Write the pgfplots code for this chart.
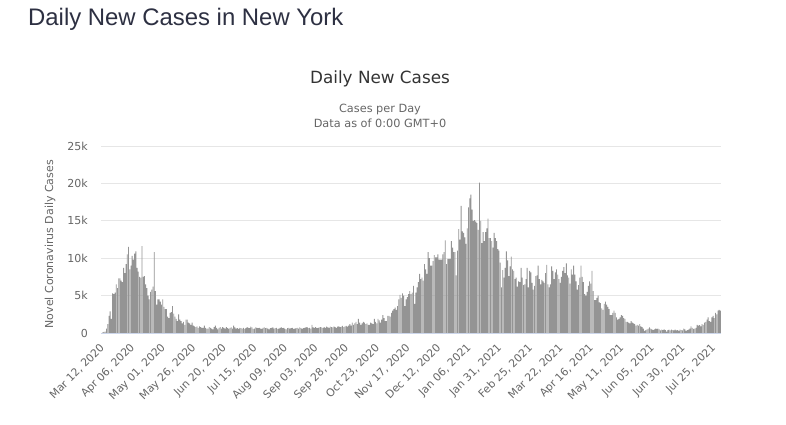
\documentclass[border=0pt]{standalone}
\usepackage{pgfplots}
\usepackage{pgfplotstable}
\pgfplotsset{compat=1.18}
\usepackage{fontspec}
\setmainfont{DejaVu Sans}
\newfontfamily\titlefont{Liberation Sans}
\definecolor{barc}{RGB}{148,148,148}
\definecolor{gridc}{RGB}{230,230,230}
\definecolor{axisc}{RGB}{204,214,235}
\definecolor{labc}{RGB}{102,102,102}
\definecolor{titc}{RGB}{51,51,51}
\definecolor{bigtitc}{RGB}{45,48,66}

\pgfplotstableread[row sep=\\]{
v\\
0\\100\\150\\200\\600\\1200\\2300\\2900\\1900\\5300\\
5200\\5400\\6500\\6000\\7300\\7300\\7000\\6800\\8700\\8000\\
9200\\10500\\11500\\8500\\9000\\10300\\9800\\10600\\10900\\8700\\
8200\\7500\\7400\\11600\\7500\\7600\\6500\\6000\\5000\\4500\\
5500\\5800\\6200\\10800\\5600\\3800\\4500\\4500\\4200\\3800\\
4500\\3500\\3200\\3200\\2200\\2000\\2700\\2800\\3600\\2600\\
2200\\1900\\1600\\2500\\1800\\1600\\1300\\1500\\1100\\1800\\
1800\\1400\\1300\\1100\\1400\\1000\\900\\800\\900\\700\\
900\\800\\700\\700\\1000\\700\\600\\600\\800\\700\\
600\\500\\800\\1000\\700\\500\\700\\800\\600\\800\\
700\\600\\800\\650\\550\\700\\750\\600\\1000\\750\\
600\\650\\550\\700\\650\\600\\700\\550\\650\\800\\
700\\650\\850\\750\\550\\600\\750\\700\\650\\700\\
600\\550\\700\\750\\650\\700\\600\\500\\650\\700\\
750\\600\\650\\700\\550\\600\\700\\750\\650\\700\\
550\\500\\650\\700\\600\\650\\700\\550\\600\\650\\
700\\600\\750\\650\\550\\650\\700\\750\\800\\650\\
700\\600\\1100\\750\\700\\800\\650\\700\\750\\800\\
750\\650\\800\\700\\850\\750\\700\\850\\800\\750\\
900\\800\\700\\850\\900\\800\\850\\950\\800\\900\\
950\\850\\1000\\1200\\1000\\1400\\1100\\1300\\1500\\1200\\
1900\\1400\\1100\\1300\\1500\\1400\\1200\\1300\\1100\\1100\\
1400\\1300\\1200\\1900\\1500\\1300\\1900\\1700\\1400\\1800\\
2400\\2000\\1600\\1600\\2300\\2300\\2200\\2700\\3000\\3200\\
3400\\3100\\3600\\4500\\5100\\4700\\5300\\5000\\3600\\4500\\
4800\\5200\\5600\\5200\\5400\\6300\\3900\\5400\\6100\\6800\\
7900\\7200\\7400\\7000\\9200\\8500\\7900\\10800\\10000\\9000\\
9000\\9600\\10400\\10100\\10100\\10500\\9800\\9800\\9800\\10500\\
10800\\12400\\9200\\9900\\9900\\9900\\12300\\11400\\10800\\10800\\
7700\\11000\\13900\\12500\\17000\\13600\\13400\\12800\\11900\\14000\\
16800\\18000\\18500\\16500\\15000\\15100\\14900\\14700\\13800\\20100\\
15000\\12000\\13500\\12300\\13500\\14000\\15300\\12700\\12700\\12300\\
11400\\13400\\12700\\12300\\11200\\11000\\9400\\6100\\8400\\7400\\
8700\\10900\\9700\\7600\\8900\\10200\\8500\\8300\\7200\\7400\\
6200\\6900\\6800\\8700\\7400\\6400\\6500\\7200\\8700\\6100\\
8300\\8100\\6700\\5800\\6300\\7600\\7700\\9000\\7200\\6500\\
7100\\6900\\6700\\8000\\9100\\6500\\6100\\6500\\8900\\8300\\
7200\\8100\\8500\\7800\\7200\\6700\\7500\\8300\\8800\\8000\\
9300\\7700\\7400\\6600\\8500\\7800\\9000\\7800\\6900\\5800\\
6400\\7400\\9000\\7500\\6800\\5200\\5000\\5500\\6300\\6900\\
6600\\8300\\5600\\4400\\4400\\4700\\5000\\4100\\4000\\3300\\
3100\\3900\\4200\\3800\\3500\\3200\\2400\\2400\\2700\\3000\\
2700\\2100\\1800\\1900\\2100\\2400\\2300\\2000\\1900\\1500\\
1500\\1400\\1300\\1600\\1400\\1300\\1200\\1000\\1100\\1000\\
1200\\900\\800\\600\\300\\400\\500\\600\\750\\600\\
500\\400\\500\\600\\550\\600\\500\\350\\450\\400\\
500\\400\\200\\400\\450\\350\\450\\400\\350\\450\\
350\\400\\300\\450\\400\\350\\600\\500\\300\\400\\
450\\600\\900\\700\\550\\600\\700\\1100\\1000\\1050\\
900\\1200\\1100\\1400\\1500\\1800\\2100\\1600\\1500\\2100\\
2300\\2000\\2700\\2500\\3000\\3100\\3000\\
}\data

\begin{document}
\begin{tikzpicture}
\useasboundingbox[fill=white] (0,0) rectangle (786pt,424pt);
\node[anchor=base west, inner sep=0pt, text=bigtitc, font=\titlefont\fontsize{23.9}{26}\selectfont] at (28pt,398pt) {Daily New Cases in New York};
\node[anchor=base, inner sep=0pt, text=titc, font=\fontsize{16.8}{19}\selectfont] at (380pt,340.5pt) {Daily New Cases};
\node[anchor=base, inner sep=0pt, text=labc, font=\fontsize{11.3}{13}\selectfont] at (380pt,312pt) {Cases per Day};
\node[anchor=base, inner sep=0pt, text=labc, font=\fontsize{11.3}{13}\selectfont] at (380pt,297pt) {Data as of 0:00 GMT+0};
\begin{axis}[
  at={(101pt,91pt)}, anchor=south west,
  width=620pt, height=187pt, scale only axis,
  xmin=-0.5, xmax=506.5, ymin=0, ymax=25000,
  scaled y ticks=false,
  axis line style={draw=none},
  major tick length=0pt,
  ymajorgrids, grid style={gridc, line width=0.9pt},
  ytick={0,5000,10000,15000,20000,25000},
  yticklabels={0,5k,10k,15k,20k,25k},
  xtick={0,25,...,500},
  xticklabels={{Mar 12, 2020},{Apr 06, 2020},{May 01, 2020},{May 26, 2020},{Jun 20, 2020},{Jul 15, 2020},{Aug 09, 2020},{Sep 03, 2020},{Sep 28, 2020},{Oct 23, 2020},{Nov 17, 2020},{Dec 12, 2020},{Jan 06, 2021},{Jan 31, 2021},{Feb 25, 2021},{Mar 22, 2021},{Apr 16, 2021},{May 11, 2021},{Jun 05, 2021},{Jun 30, 2021},{Jul 25, 2021}},
  yticklabel style={font=\fontsize{11}{13}\selectfont, text=labc, inner sep=0pt, anchor=east, xshift=-13pt},
  xticklabel style={font=\fontsize{10.8}{13}\selectfont, text=labc, inner sep=0pt, rotate=45, anchor=east, xshift=-8.5pt, yshift=-9.9pt},
  ylabel={Novel Coronavirus Daily Cases},
  every axis y label/.style={at={(axis description cs:-0.082,0.475)}, rotate=90, anchor=center, font=\fontsize{11}{13}\selectfont, text=labc},
  clip=false,
]
\addplot[ybar, bar width=0.72, draw=none, fill=barc] table[x expr=\coordindex, y=v] {\data};
\draw[axisc, line width=1pt] (rel axis cs:0,0) -- (rel axis cs:1,0);
\end{axis}
\end{tikzpicture}
\end{document}
